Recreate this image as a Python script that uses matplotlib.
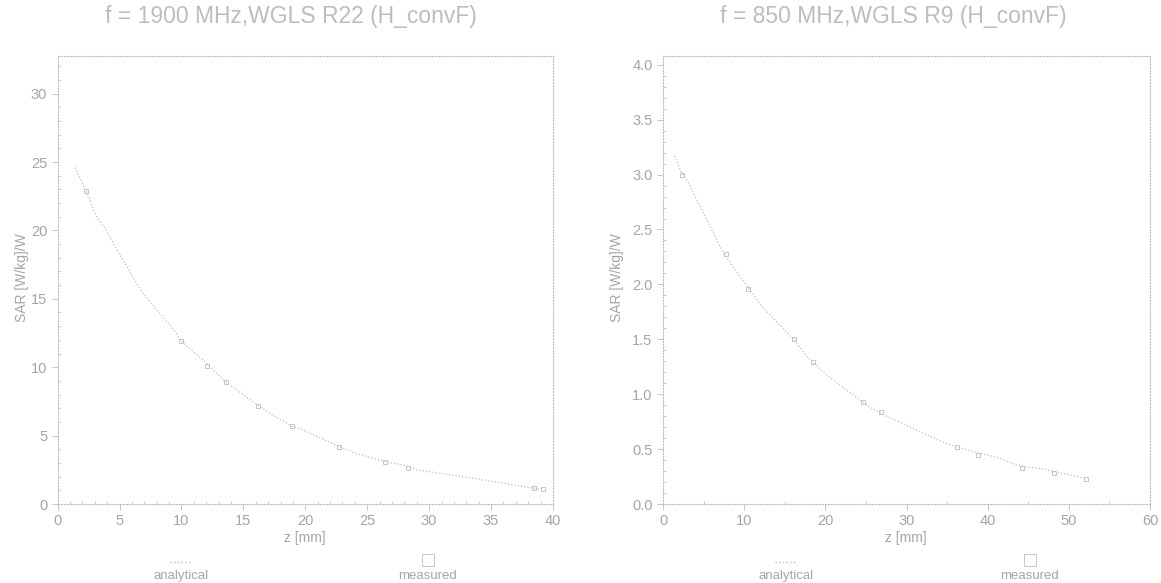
import matplotlib
matplotlib.use("Agg")
import matplotlib.pyplot as plt
from matplotlib.lines import Line2D
from matplotlib.ticker import MultipleLocator

plt.rcParams['font.family'] = ['Liberation Sans', 'DejaVu Sans']

# --- 1900 MHz, R22 ---
titre_g = "f = 1900 MHz,WGLS R22 (H_convF)"
z_ana_g = [1.4, 2.3, 3.2, 3.8, 4.6, 4.9, 5.3, 5.7, 6.2, 6.9, 7.9, 9.5, 10.0, 11.9,
           13.6, 16.2, 17.4, 18.9, 19.6, 22.7, 24.1, 26.4, 28.1, 29.0, 33.4, 38.5, 39.2]
sar_ana_g = [24.6, 22.9, 20.9, 20.2, 18.9, 18.4, 17.8, 17.2, 16.4, 15.4, 14.3, 12.6, 11.9, 10.4,
             8.9, 7.2, 6.5, 5.7, 5.5, 4.2, 3.7, 3.1, 2.8, 2.5, 1.9, 1.15, 1.07]
z_mes_g = [2.3, 10.0, 12.1, 13.6, 16.2, 18.9, 22.7, 26.4, 28.3, 38.5, 39.2]
sar_mes_g = [22.9, 11.9, 10.1, 8.9, 7.2, 5.7, 4.2, 3.1, 2.6, 1.15, 1.07]

# --- 850 MHz, R9 ---
titre_d = "f = 850 MHz,WGLS R9 (H_convF)"
z_ana_d = [1.4, 2.2, 3.2, 4.15, 5.0, 7.4, 9.5, 11.0, 12.15, 16.1, 17.8, 19.0, 20.6,
           24.05, 25.3, 27.5, 34.9, 36.2, 38.3, 41.4, 43.0, 44.6, 46.8, 52.1]
sar_ana_d = [3.17, 3.03, 2.92, 2.77, 2.65, 2.29, 2.07, 1.92, 1.80, 1.50, 1.34, 1.25, 1.15,
             0.96, 0.89, 0.80, 0.55, 0.52, 0.475, 0.42, 0.37, 0.34, 0.32, 0.23]
z_mes_d = [2.4, 7.8, 10.5, 16.1, 18.5, 24.7, 26.8, 36.2, 38.8, 44.2, 48.2, 52.1]
sar_mes_d = [3.0, 2.28, 1.96, 1.50, 1.29, 0.93, 0.84, 0.52, 0.45, 0.33, 0.28, 0.23]

GRIS = '#bdbdbd'
GRIS_F = '#a5a5a5'

fig = plt.figure(figsize=(11.61, 5.83), dpi=100)


def panneau(rect, titre, x_titre, z_a, s_a, z_m, s_m, xmax, ymax, xmaj, xmin, ymaj, ymin, fmt):
    ax = fig.add_axes(rect)
    ax.plot(z_a, s_a, linestyle=':', color=GRIS, linewidth=0.9)
    ax.plot(z_m, s_m, linestyle='none', marker='s', markersize=2.5,
            markerfacecolor='none', markeredgecolor=GRIS, markeredgewidth=0.6)
    ax.set_xlim(0, xmax)
    ax.set_ylim(0, ymax)
    ax.xaxis.set_major_locator(MultipleLocator(xmaj))
    ax.xaxis.set_minor_locator(MultipleLocator(xmin))
    ax.yaxis.set_major_locator(MultipleLocator(ymaj))
    ax.yaxis.set_minor_locator(MultipleLocator(ymin))
    ax.yaxis.set_major_formatter(fmt)
    ax.tick_params(which='major', direction='out', length=4, width=0.6,
                   color=GRIS, labelcolor=GRIS_F, labelsize=10.5)
    ax.tick_params(which='minor', direction='in', length=2.5, width=0.5, color=GRIS)
    for s in ax.spines.values():
        s.set_linestyle(':')
        s.set_color(GRIS)
        s.set_linewidth(0.8)
    fig.text(x_titre, 1 - 17 / 583, titre, ha='center', va='center',
             fontsize=16.5, color=GRIS)
    return ax


ax1 = panneau([57.6 / 1161, 1 - 504 / 583, 495.4 / 1161, 448 / 583], titre_g, 291 / 1161,
              z_ana_g, sar_ana_g, z_mes_g, sar_mes_g, 40, 32.75, 5, 1, 5, 1, '{x:.0f}')
ax2 = panneau([663 / 1161, 1 - 504 / 583, 487 / 1161, 448 / 583], titre_d, 893 / 1161,
              z_ana_d, sar_ana_d, z_mes_d, sar_mes_d, 60, 4.08, 10, 5, 0.5, 0.1, '{x:.1f}')

# axis labels
for xc, yl in [(22, 'SAR [W/kg]/W'), (617, 'SAR [W/kg]/W')]:
    fig.text(xc / 1161, 1 - 278 / 583, yl, rotation=90, ha='center', va='center',
             fontsize=10, color=GRIS_F)
for xc in [305, 906]:
    fig.text(xc / 1161, 1 - 538 / 583, 'z [mm]', ha='center', va='center',
             fontsize=10, color=GRIS_F)

# legends below each panel
for xa, xm in [(181, 428), (786, 1030)]:
    fig.add_artist(Line2D([(xa - 11) / 1161, (xa + 11) / 1161], [1 - 562 / 583] * 2,
                          transform=fig.transFigure, linestyle=':', color=GRIS, linewidth=1.0))
    fig.add_artist(Line2D([xm / 1161], [1 - 560 / 583], transform=fig.transFigure,
                          linestyle='none', marker='s', markersize=8,
                          markerfacecolor='none', markeredgecolor=GRIS, markeredgewidth=0.6))
    fig.text(xa / 1161, 1 - 576 / 583, 'analytical', ha='center', va='center',
             fontsize=9.5, color=GRIS_F)
    fig.text(xm / 1161, 1 - 576 / 583, 'measured', ha='center', va='center',
             fontsize=9.5, color=GRIS_F)

fig.savefig('out.png', dpi=100)
